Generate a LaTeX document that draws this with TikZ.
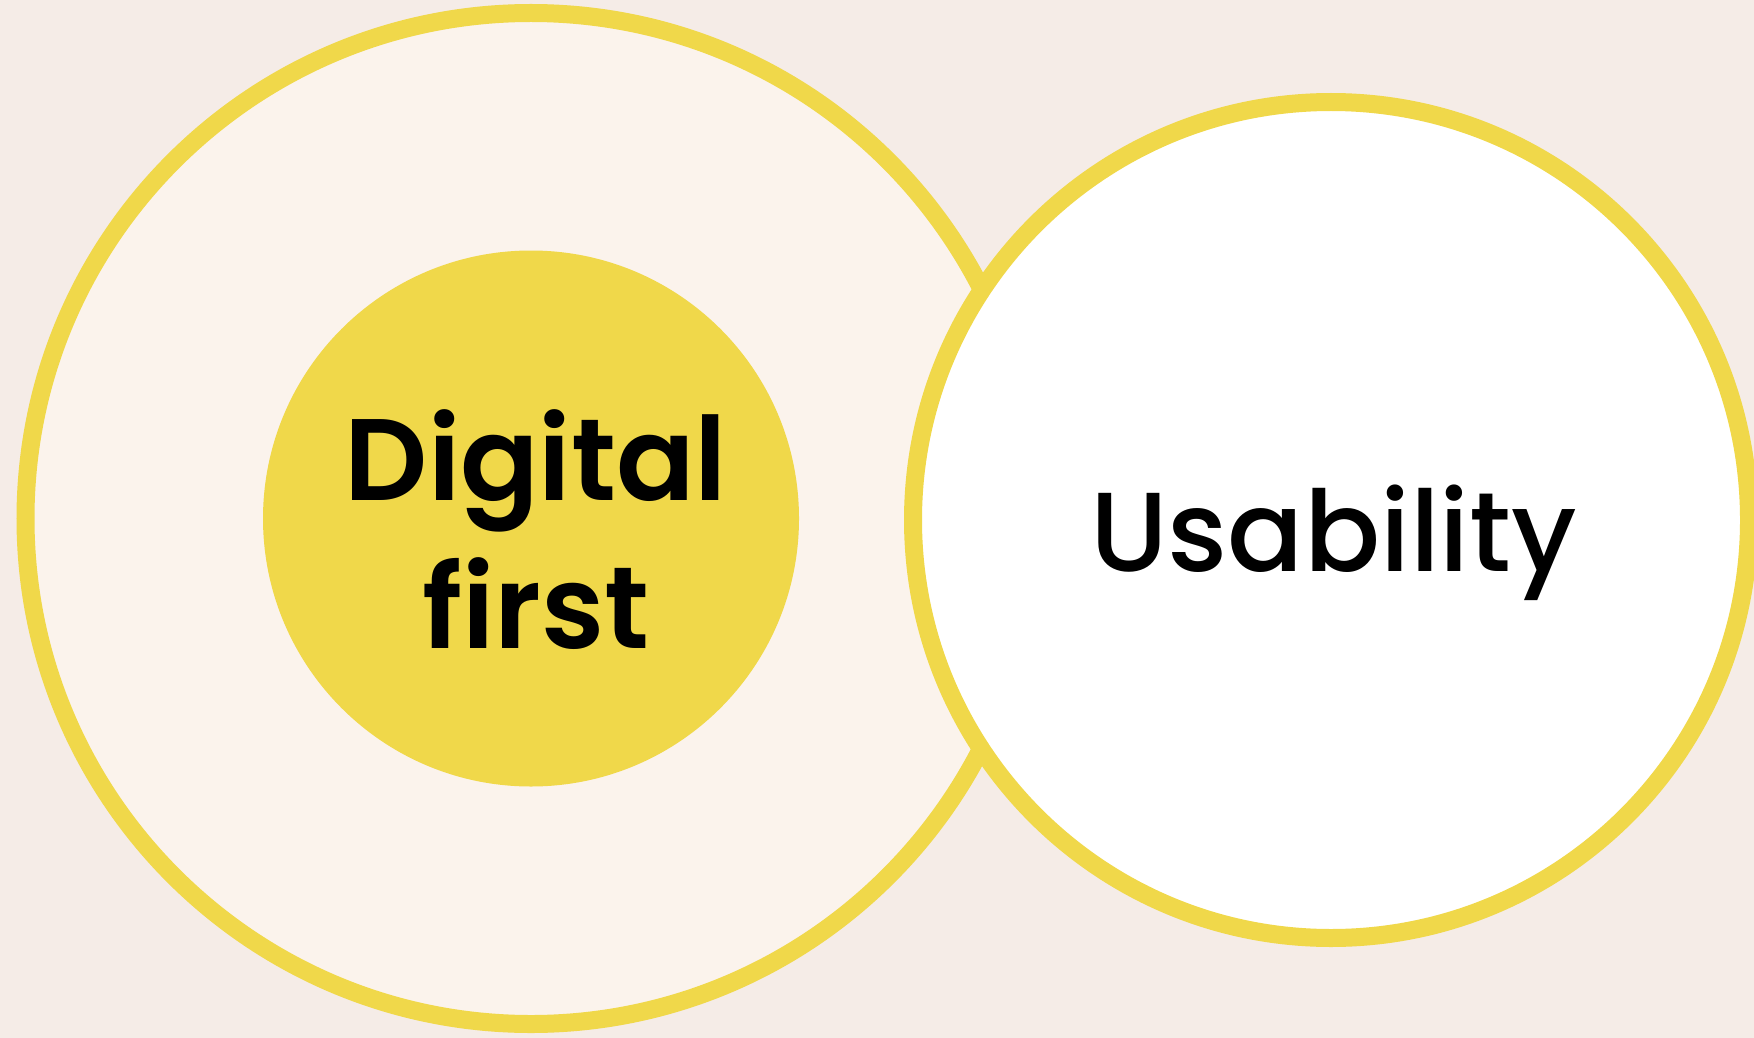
\documentclass[tikz,border=0pt]{standalone}
\usepackage{fontspec}
\setmainfont{Poppins}
\newfontfamily\headfont{Poppins SemiBold}
\newfontfamily\plainfont{Poppins Medium}
\usepackage{xcolor}
\definecolor{backdrop}{RGB}{245,236,231}
\definecolor{cream}{RGB}{251,243,236}
\definecolor{ochre}{RGB}{240,216,74}

\begin{document}
\begin{tikzpicture}[ring/.style={circle,draw=ochre,line width=0.36cm,inner sep=0pt},
  label font/.style={font=\fontsize{66}{84}\selectfont,align=center,text=black,inner sep=0pt}]
\fill[backdrop] (0,0) rectangle (35.08,-20.76);
\useasboundingbox (0,0) rectangle (35.08,-20.76);
\node (outer) [ring,fill=cream,minimum size=20.22cm] at (10.62,-10.37) {};
\node (core) [circle,fill=ochre,minimum size=10.72cm] at (outer.center) {};
\node (usability) [ring,fill=white,minimum size=16.72cm] at (26.62,-10.40) {};
% labels
\node (corelabel) [label font] at ([xshift=0.1cm,yshift=-0.22cm]core.center) {\headfont Digital\\\headfont first};
\node (usalabel) [label font,font=\fontsize{64}{80}\selectfont] at ([xshift=0.05cm,yshift=-0.45cm]usability.center) {\plainfont Usability};
\end{tikzpicture}
\end{document}
